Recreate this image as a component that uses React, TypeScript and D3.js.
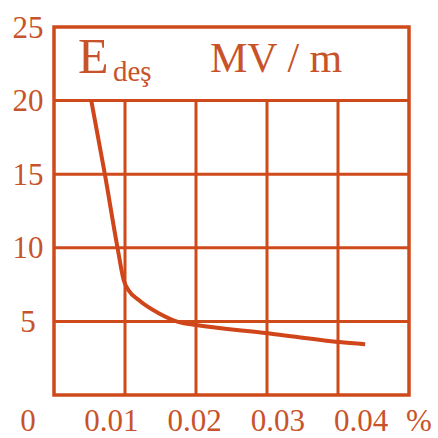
import React, { useEffect, useRef } from 'react';
import * as d3 from 'd3';

// breakdown field vs. concentration
const concentration = [0.0076, 0.0092, 0.0108, 0.0115, 0.0121, 0.0133, 0.0157, 0.0181, 0.0202, 0.0288, 0.0374, 0.0405];
const fieldMV = [20.0, 15.1, 9.85, 7.8, 7.1, 6.45, 5.55, 4.95, 4.75, 4.2, 3.6, 3.45];

const xTicks = [0, 0.01, 0.02, 0.03, 0.04];
const xTickLabels = ['0', '0.01', '0.02', '0.03', '0.04'];
const yTicks = [5, 10, 15, 20, 25];
const gridColumns = 5;

interface Point {
    x: number;
    y: number;
}

const Chart: React.FC = () => {
    const svgRef = useRef<SVGSVGElement | null>(null);

    useEffect(() => {
        if (!svgRef.current) return;
        const svg = d3.select(svgRef.current);
        svg.selectAll('*').remove();

        const width = 438;
        const height = 438;
        const frame = { left: 54, right: 409, top: 27, bottom: 395 };
        const lineColor = '#cf4a1b';
        const textColor = '#c8532a';
        const font = 'Liberation Serif';

        svg.attr('width', width).attr('height', height);

        const y = d3.scaleLinear().domain([0, 25]).range([frame.bottom, frame.top]);
        // the printed x labels do not sit on the grid columns, so the data scale follows the labels
        const x = d3.scaleLinear().domain([0, 0.04]).range([28, 361]);
        const col = d3.scaleLinear().domain([0, gridColumns]).range([frame.left, frame.right]);

        const grid = svg.append('g').attr('stroke', lineColor).attr('stroke-width', 3);

        grid.selectAll('line.v')
            .data(d3.range(1, gridColumns))
            .enter()
            .append('line')
            .attr('class', 'v')
            .attr('x1', (d) => col(d))
            .attr('x2', (d) => col(d))
            .attr('y1', y(20))
            .attr('y2', frame.bottom);

        grid.selectAll('line.h')
            .data(yTicks.filter((d) => d < 25))
            .enter()
            .append('line')
            .attr('class', 'h')
            .attr('x1', frame.left)
            .attr('x2', frame.right)
            .attr('y1', (d) => y(d))
            .attr('y2', (d) => y(d));

        svg.append('rect')
            .attr('x', frame.left)
            .attr('y', frame.top)
            .attr('width', frame.right - frame.left)
            .attr('height', frame.bottom - frame.top)
            .attr('fill', 'none')
            .attr('stroke', lineColor)
            .attr('stroke-width', 3.5);

        // y labels
        svg.append('g')
            .selectAll('text')
            .data(yTicks)
            .enter()
            .append('text')
            .attr('x', 28)
            .attr('y', (d) => y(d))
            .attr('dy', '0.34em')
            .attr('text-anchor', 'middle')
            .attr('font-family', font)
            .attr('font-size', 31)
            .attr('fill', textColor)
            .text((d) => d);

        // x labels
        svg.append('g')
            .selectAll('text')
            .data(xTicks)
            .enter()
            .append('text')
            .attr('x', (d) => x(d))
            .attr('y', 431)
            .attr('text-anchor', 'middle')
            .attr('font-family', font)
            .attr('font-size', 31)
            .attr('fill', textColor)
            .text((_, i) => xTickLabels[i]);

        svg.append('text')
            .attr('x', x(0.04) + 45)
            .attr('y', 431)
            .attr('font-family', font)
            .attr('font-size', 31)
            .attr('fill', textColor)
            .text('%');

        // title inside the top band
        svg.append('text')
            .attr('x', 78)
            .attr('y', 73)
            .attr('font-family', font)
            .attr('font-size', 50)
            .attr('fill', textColor)
            .text('E');
        svg.append('text')
            .attr('x', 113)
            .attr('y', 81)
            .attr('font-family', font)
            .attr('font-size', 29)
            .attr('fill', textColor)
            .text('deş');
        svg.append('text')
            .attr('x', 210)
            .attr('y', 72)
            .attr('font-family', font)
            .attr('font-size', 42)
            .attr('fill', textColor)
            .text('MV / m');

        const data: Point[] = concentration.map((c, i) => ({ x: c, y: fieldMV[i] }));
        const line = d3.line<Point>()
            .x((d) => x(d.x))
            .y((d) => y(d.y))
            .curve(d3.curveMonotoneX);

        svg.append('path')
            .datum(data)
            .attr('fill', 'none')
            .attr('stroke', '#d0451a')
            .attr('stroke-width', 4)
            .attr('d', line);
    }, []);

    return <svg ref={svgRef} style={{ position: 'absolute', left: 0, top: 0, background: '#fff' }}></svg>;
};

export default function App() {
    return <Chart />;
}
